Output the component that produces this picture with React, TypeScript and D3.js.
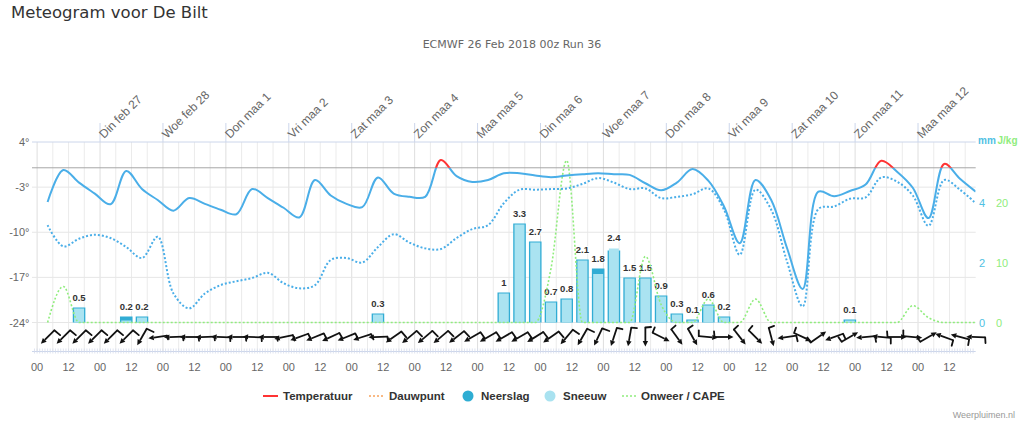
import { useEffect, useRef } from "react";
import * as d3 from "d3";

// forecast steps: every 6 hours, first one at 04:00 local time on Mon 26 Feb
const firstHour = 4;
const stepHours = 6;

const dayLabels = [
  "Din feb 27", "Woe feb 28", "Don maa 1", "Vri maa 2", "Zat maa 3", "Zon maa 4", "Maa maa 5",
  "Din maa 6", "Woe maa 7", "Don maa 8", "Vri maa 9", "Zat maa 10", "Zon maa 11", "Maa maa 12",
];

const temperature = [
  -5.3, -0.35, -2.3, -4.0, -5.66, -0.5, -3.3, -5.0, -6.65, -4.7,
  -5.6, -6.5, -7.2, -3.3, -4.7, -6.2, -7.7, -1.9, -4.3, -5.6,
  -6.1, -1.5, -4.0, -4.5, -4.5, 1.2, -1.3, -2.2, -1.9, -0.85,
  -0.85, -1.2, -1.45, -1.2, -1.0, -0.85, -1.0, -1.1, -2.4, -3.5,
  -2.3, -0.2, -2.0, -6.0, -11.7, -1.9, -5.0, -12.4, -18.8, -3.7,
  -4.4, -3.6, -2.6, 1.1, -0.6, -3.1, -7.8, 0.6, -1.7, -3.7,
];

const dewpoint = [
  -8.9, -12.2, -11.0, -10.4, -10.9, -12.3, -14.0, -10.7, -19.5, -21.8,
  -19.5, -18.2, -17.6, -17.1, -16.3, -17.9, -18.7, -18.2, -14.3, -14.0,
  -14.7, -12.3, -10.3, -11.6, -12.5, -12.6, -10.9, -9.5, -8.9, -5.5,
  -3.4, -3.4, -3.3, -3.2, -2.5, -1.6, -2.3, -3.3, -3.2, -4.7,
  -4.5, -4.1, -3.2, -6.5, -13.5, -3.4, -6.5, -14.5, -21.5, -6.4,
  -6.0, -4.8, -4.6, -1.5, -2.15, -4.3, -9.0, -1.9, -3.4, -5.5,
];

const cape = [
  0, 6, 0, 0, 0, 0, 0, 0, 0, 0,
  0, 0, 0, 0, 0, 0, 0, 0, 0, 0,
  0, 0, 0, 0, 0, 0, 0, 0, 0, 0,
  0, 0, 9, 27, 0, 0, 0, 0, 11, 3,
  0, 0, 3.9, 0, 0, 3.9, 0, 0, 0, 0,
  0, 0, 0, 0, 0, 2.8, 0.8, 0, 0, 0,
];

const precipitation = [
  0, 0, 0.5, 0, 0, 0.2, 0.2, 0, 0, 0,
  0, 0, 0, 0, 0, 0, 0, 0, 0, 0,
  0, 0.3, 0, 0, 0, 0, 0, 0, 0, 1,
  3.3, 2.7, 0.7, 0.8, 2.1, 1.8, 2.4, 1.5, 1.5, 0.9,
  0.3, 0.1, 0.6, 0.2, 0, 0, 0, 0, 0, 0,
  0, 0.1, 0, 0, 0, 0, 0, 0, 0, 0,
];

const snow = [
  0, 0, 0.5, 0, 0, 0.1, 0.2, 0, 0, 0,
  0, 0, 0, 0, 0, 0, 0, 0, 0, 0,
  0, 0.3, 0, 0, 0, 0, 0, 0, 0, 1,
  3.3, 2.7, 0.7, 0.8, 2.1, 1.65, 2.5, 1.5, 1.5, 0.9,
  0.3, 0.1, 0.6, 0.2, 0, 0, 0, 0, 0, 0,
  0, 0.1, 0, 0, 0, 0, 0, 0, 0, 0,
];

// direction the arrow points to (degrees, 0 = north) and wind force
const windDirection = [
  225, 225, 225, 225, 225, 225, 210, 262, 268, 270,
  268, 272, 270, 272, 270, 258, 250, 248, 245, 248,
  252, 268, 235, 230, 230, 230, 232, 240, 240, 240,
  240, 238, 235, 220, 210, 205, 198, 190, 180, 117,
  144, 151, 95, 90, 142, 135, 165, 262, 115, 55,
  250, 60, 265, 275, 90, 95, 60, 290, 285, 272,
];
const windSpeed = [
  4, 4, 4, 4, 4, 4, 4, 2, 2, 2,
  2, 2, 2, 2, 2, 3, 3, 3, 3, 3,
  3, 2, 4, 4, 4, 4, 4, 4, 4, 4,
  4, 4, 4, 4, 4, 4, 3, 3, 3, 3,
  3, 3, 3, 3, 3, 3, 3, 3, 3, 3,
  3, 3, 3, 3, 3, 3, 3, 3, 3, 3,
];

const tempTicks = [4, -3, -10, -17, -24];
const precipTicks = [0, 2, 4];
const capeTicks = [0, 10, 20];

const axisFont = "'Liberation Sans', Arial, sans-serif";
const titleFont = "'DejaVu Sans', sans-serif";
const blue = "#4aaee8";
const red = "#ff3333";
const green = "#90ed7d";
const rainColor = "#31acd4";
const snowColor = "#aae3f1";
const mmColor = "#4fc1e3";

export default function App() {
  const ref = useRef<SVGSVGElement>(null);

  useEffect(() => {
    const svg = d3.select(ref.current);
    svg.selectAll("*").remove();

    const plotLeft = 32;
    const plotRight = 975.7;
    const plotTop = 142;
    const plotBottom = 351.5;
    const hours = temperature.map((_, i) => firstHour + i * stepHours);

    const x = d3.scaleLinear().domain([-1.95, 358]).range([plotLeft, plotRight]);
    const yTemp = d3.scaleLinear().domain([-24, 4]).range([322.5, 142]);
    const yMm = d3.scaleLinear().domain([0, 6]).range([322.5, 142.5]);
    const yCape = d3.scaleLinear().domain([0, 30]).range([322.5, 142.5]);

    svg.append("rect").attr("width", 1024).attr("height", 425).attr("fill", "white");

    const defs = svg.append("defs");
    defs
      .append("clipPath")
      .attr("id", "plot")
      .append("rect")
      .attr("x", plotLeft)
      .attr("y", plotTop - 20)
      .attr("width", plotRight - plotLeft)
      .attr("height", plotBottom - plotTop + 20);
    defs
      .append("clipPath")
      .attr("id", "warm")
      .append("rect")
      .attr("x", plotLeft)
      .attr("y", 0)
      .attr("width", plotRight - plotLeft)
      .attr("height", yTemp(0));
    defs
      .append("clipPath")
      .attr("id", "cold")
      .append("rect")
      .attr("x", plotLeft)
      .attr("y", yTemp(0))
      .attr("width", plotRight - plotLeft)
      .attr("height", 425);

    // titles
    svg
      .append("text")
      .attr("x", 11)
      .attr("y", 18)
      .attr("font-family", titleFont)
      .attr("font-size", 16.5)
      .attr("fill", "#333")
      .text("Meteogram voor De Bilt");
    svg
      .append("text")
      .attr("x", 512)
      .attr("y", 48)
      .attr("text-anchor", "middle")
      .attr("font-family", titleFont)
      .attr("font-size", 11)
      .attr("fill", "#666")
      .text("ECMWF 26 Feb 2018 00z Run 36");

    // vertical grid every 6 hours
    const gridHours = d3.range(0, 358, 6);
    svg
      .append("g")
      .selectAll("line")
      .data(gridHours)
      .join("line")
      .attr("x1", (h) => x(h))
      .attr("x2", (h) => x(h))
      .attr("y1", plotTop)
      .attr("y2", plotBottom)
      .attr("stroke", (h) => (h % 24 === 0 ? "#dedede" : "#ebebeb"))
      .attr("stroke-width", 1);

    // horizontal grid
    svg
      .append("g")
      .selectAll("line")
      .data(tempTicks.slice(1))
      .join("line")
      .attr("x1", plotLeft)
      .attr("x2", plotRight)
      .attr("y1", (d) => yTemp(d))
      .attr("y2", (d) => yTemp(d))
      .attr("stroke", "#e6e6e6");

    // top axis with day labels
    svg
      .append("line")
      .attr("x1", plotLeft)
      .attr("x2", plotRight)
      .attr("y1", plotTop)
      .attr("y2", plotTop)
      .attr("stroke", "#ccd6eb");
    const days = dayLabels.map((label, i) => ({ label, h: (i + 1) * 24 }));
    const top = svg.append("g");
    top
      .selectAll("line")
      .data(days)
      .join("line")
      .attr("x1", (d) => x(d.h))
      .attr("x2", (d) => x(d.h))
      .attr("y1", 123)
      .attr("y2", plotTop)
      .attr("stroke", "#ccd6eb");
    top
      .selectAll("text")
      .data(days)
      .join("text")
      .attr("transform", (d) => `translate(${x(d.h) + 4},${plotTop - 3}) rotate(-45)`)
      .attr("font-family", axisFont)
      .attr("font-size", 12)
      .attr("fill", "#666")
      .text((d) => d.label);

    // zero line
    svg
      .append("line")
      .attr("x1", plotLeft)
      .attr("x2", plotRight)
      .attr("y1", yTemp(0))
      .attr("y2", yTemp(0))
      .attr("stroke", "#a6a6a6");

    // left axis labels
    svg
      .append("g")
      .selectAll("text")
      .data(tempTicks)
      .join("text")
      .attr("x", 29.5)
      .attr("y", (d) => yTemp(d) + 4)
      .attr("text-anchor", "end")
      .attr("font-family", axisFont)
      .attr("font-size", 11)
      .attr("fill", "#666")
      .text((d) => `${d}°`);

    // right axis labels
    svg
      .append("g")
      .selectAll("text")
      .data(precipTicks)
      .join("text")
      .attr("x", 979)
      .attr("y", (d) => yMm(d) + 4)
      .attr("font-family", axisFont)
      .attr("font-size", 11)
      .attr("fill", mmColor)
      .text((d) => d);
    svg
      .append("g")
      .selectAll("text")
      .data(capeTicks)
      .join("text")
      .attr("x", 996)
      .attr("y", (d) => yCape(d) + 4)
      .attr("font-family", axisFont)
      .attr("font-size", 11)
      .attr("fill", green)
      .text((d) => d);
    svg
      .append("text")
      .attr("x", 978)
      .attr("y", 144)
      .attr("font-family", axisFont)
      .attr("font-size", 10)
      .attr("font-weight", "bold")
      .attr("fill", mmColor)
      .text("mm");
    svg
      .append("text")
      .attr("x", 997.5)
      .attr("y", 144)
      .attr("font-family", axisFont)
      .attr("font-size", 10)
      .attr("font-weight", "bold")
      .attr("fill", green)
      .text("J/kg");

    // bottom axis
    svg
      .append("line")
      .attr("x1", plotLeft)
      .attr("x2", plotRight)
      .attr("y1", plotBottom)
      .attr("y2", plotBottom)
      .attr("stroke", "#ccd6eb");
    svg
      .append("g")
      .selectAll("line")
      .data(d3.range(-1, 358, 1))
      .join("line")
      .attr("x1", (h) => x(h))
      .attr("x2", (h) => x(h))
      .attr("y1", plotBottom - 3)
      .attr("y2", plotBottom + 2)
      .attr("stroke", "#d5dcec")
      .attr("stroke-width", 0.8);
    svg
      .append("g")
      .selectAll("text")
      .data(d3.range(0, 357, 12))
      .join("text")
      .attr("x", (h) => x(h))
      .attr("y", 370.5)
      .attr("text-anchor", "middle")
      .attr("font-family", axisFont)
      .attr("font-size", 11)
      .attr("fill", "#666")
      .text((h) => (h % 24 === 0 ? "00" : "12"));

    // precipitation columns
    const step = x(stepHours) - x(0);
    const barW = step * 0.8;
    const bars = svg.append("g");
    const idx = d3.range(hours.length).filter((i) => precipitation[i] > 0 || snow[i] > 0);
    bars
      .selectAll("rect.rain")
      .data(idx)
      .join("rect")
      .attr("class", "rain")
      .attr("x", (i) => x(hours[i]) - barW / 2)
      .attr("y", (i) => yMm(precipitation[i]))
      .attr("width", barW)
      .attr("height", (i) => yMm(0) - yMm(precipitation[i]))
      .attr("fill", rainColor);
    bars
      .selectAll("rect.snow")
      .data(idx.filter((i) => snow[i] > 0))
      .join("rect")
      .attr("class", "snow")
      .attr("x", (i) => x(hours[i]) - barW / 2 + 1.3)
      .attr("y", (i) => Math.min(yMm(snow[i]) + 1, yMm(0) - 1))
      .attr("width", barW - 2.6)
      .attr("height", (i) => Math.max(yMm(0) - yMm(snow[i]) - 1, 1))
      .attr("fill", snowColor);
    bars
      .selectAll("text")
      .data(idx.filter((i) => precipitation[i] > 0))
      .join("text")
      .attr("x", (i) => x(hours[i]))
      .attr("y", (i) => yMm(Math.max(precipitation[i], snow[i])) - 6.5)
      .attr("text-anchor", "middle")
      .attr("font-family", axisFont)
      .attr("font-size", 9.5)
      .attr("font-weight", "bold")
      .attr("fill", "#333")
      .attr("stroke", "white")
      .attr("stroke-width", 2)
      .attr("paint-order", "stroke")
      .text((i) => precipitation[i]);

    const lines = svg.append("g").attr("clip-path", "url(#plot)");

    // CAPE
    const capeLine = d3
      .line<number>()
      .x((_, i) => x(hours[i]))
      .y((d) => yCape(d))
      .curve(d3.curveMonotoneX);
    lines
      .append("path")
      .attr("d", capeLine(cape))
      .attr("fill", "none")
      .attr("stroke", green)
      .attr("stroke-width", 1.6)
      .attr("stroke-dasharray", "2,2");

    const tempLine = d3
      .line<number>()
      .x((_, i) => x(hours[i]))
      .y((d) => yTemp(d))
      .curve(d3.curveCatmullRom.alpha(0.5));

    // dew point
    lines
      .append("path")
      .attr("d", tempLine(dewpoint))
      .attr("fill", "none")
      .attr("stroke", blue)
      .attr("stroke-width", 2)
      .attr("stroke-dasharray", "2,2");

    // temperature, red above zero
    const tempD = tempLine(temperature);
    lines
      .append("path")
      .attr("d", tempD)
      .attr("clip-path", "url(#cold)")
      .attr("fill", "none")
      .attr("stroke", blue)
      .attr("stroke-width", 2);
    lines
      .append("path")
      .attr("d", tempD)
      .attr("clip-path", "url(#warm)")
      .attr("fill", "none")
      .attr("stroke", red)
      .attr("stroke-width", 2);

    // wind arrows
    const windY = 337;
    const wind = svg.append("g").attr("fill", "#111").attr("stroke", "#111");
    hours.forEach((h, i) => {
      const cx = x(h);
      const a = (windDirection[i] * Math.PI) / 180;
      const dx = Math.sin(a);
      const dy = -Math.cos(a);
      const half = 9.5;
      const hx = cx + dx * half;
      const hy = windY + dy * half;
      const tx = cx - dx * half;
      const ty = windY - dy * half;
      const px = -dy;
      const py = dx;
      const headLen = 5.5;
      const bx = hx - dx * headLen;
      const by = hy - dy * headLen;
      wind
        .append("line")
        .attr("x1", tx)
        .attr("y1", ty)
        .attr("x2", bx)
        .attr("y2", by)
        .attr("stroke-width", 1.8);
      wind
        .append("path")
        .attr("stroke", "none")
        .attr(
          "d",
          `M${hx},${hy}L${bx + px * 2.7},${by + py * 2.7}L${bx - px * 2.7},${by - py * 2.7}Z`
        );
      const fa = ((windDirection[i] - 95) * Math.PI) / 180;
      const fl = windSpeed[i] * 1.9;
      wind
        .append("line")
        .attr("x1", tx)
        .attr("y1", ty)
        .attr("x2", tx + Math.sin(fa) * fl)
        .attr("y2", ty - Math.cos(fa) * fl)
        .attr("stroke-width", 1.8)
        .attr("stroke-linecap", "round");
    });

    // legend
    const legend = svg
      .append("g")
      .attr("font-family", axisFont)
      .attr("font-size", 11.5)
      .attr("font-weight", "bold")
      .attr("fill", "#333");
    const ly = 396;
    legend.append("line").attr("x1", 263).attr("x2", 278).attr("y1", ly).attr("y2", ly).attr("stroke", red).attr("stroke-width", 2);
    legend.append("text").attr("x", 283).attr("y", ly + 4).text("Temperatuur");
    legend
      .append("line")
      .attr("x1", 369)
      .attr("x2", 383)
      .attr("y1", ly)
      .attr("y2", ly)
      .attr("stroke", "#f7a35c")
      .attr("stroke-width", 1.5)
      .attr("stroke-dasharray", "2,2");
    legend.append("text").attr("x", 389).attr("y", ly + 4).text("Dauwpunt");
    legend.append("circle").attr("cx", 468).attr("cy", ly).attr("r", 5.5).attr("fill", "#2eadd3");
    legend.append("text").attr("x", 481).attr("y", ly + 4).text("Neerslag");
    legend.append("circle").attr("cx", 550).attr("cy", ly).attr("r", 5.5).attr("fill", "#a9e2f0");
    legend.append("text").attr("x", 563).attr("y", ly + 4).text("Sneeuw");
    legend
      .append("line")
      .attr("x1", 622)
      .attr("x2", 636)
      .attr("y1", ly)
      .attr("y2", ly)
      .attr("stroke", green)
      .attr("stroke-width", 1.5)
      .attr("stroke-dasharray", "2,2");
    legend.append("text").attr("x", 641).attr("y", ly + 4).text("Onweer / CAPE");

    svg
      .append("text")
      .attr("x", 1015)
      .attr("y", 418)
      .attr("text-anchor", "end")
      .attr("font-family", axisFont)
      .attr("font-size", 9)
      .attr("fill", "#999")
      .text("Weerpluimen.nl");
  }, []);

  return (
    <svg
      ref={ref}
      width={1024}
      height={425}
      style={{ position: "absolute", left: 0, top: 0, display: "block" }}
    />
  );
}
